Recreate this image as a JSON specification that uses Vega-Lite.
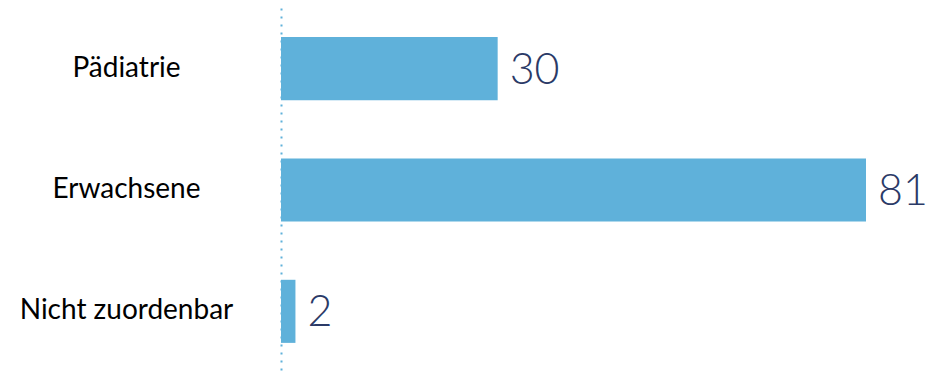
{
  "$schema": "https://vega.github.io/schema/vega-lite/v6.json",
  "autosize": "none",
  "width": 585,
  "height": 364,
  "padding": {"left": 281, "top": 8, "right": 65, "bottom": 2},
  "background": "white",
  "data": {"values": [
    {"Gruppe": "Pädiatrie", "Anzahl": 30},
    {"Gruppe": "Erwachsene", "Anzahl": 81},
    {"Gruppe": "Nicht zuordenbar", "Anzahl": 2}
  ]},
  "encoding": {
    "y": {"field": "Gruppe", "type": "nominal", "sort": null,
      "scale": {"paddingInner": 0.48, "paddingOuter": 0.24},
      "axis": {"title": null, "ticks": false, "labelAlign": "center", "labelPadding": 155, "labelLimit": 300,
        "labelFont": "Lato", "labelFontSize": 28, "labelFontWeight": "normal", "labelColor": "#000000",
        "domainColor": "#5fb1da", "domainDash": [2, 6], "domainWidth": 2}},
    "x": {"field": "Anzahl", "type": "quantitative",
      "scale": {"domain": [0, 81], "nice": false},
      "axis": null}
  },
  "layer": [
    {"mark": {"type": "bar", "color": "#5fb1da"}},
    {"mark": {"type": "text", "align": "left", "baseline": "middle", "dx": 12, "dy": 2,
      "font": "Lato", "fontWeight": 300, "fontSize": 43, "color": "#2b3a67"},
     "encoding": {"text": {"field": "Anzahl", "type": "quantitative"}}}
  ],
  "config": {"view": {"stroke": null}}
}
